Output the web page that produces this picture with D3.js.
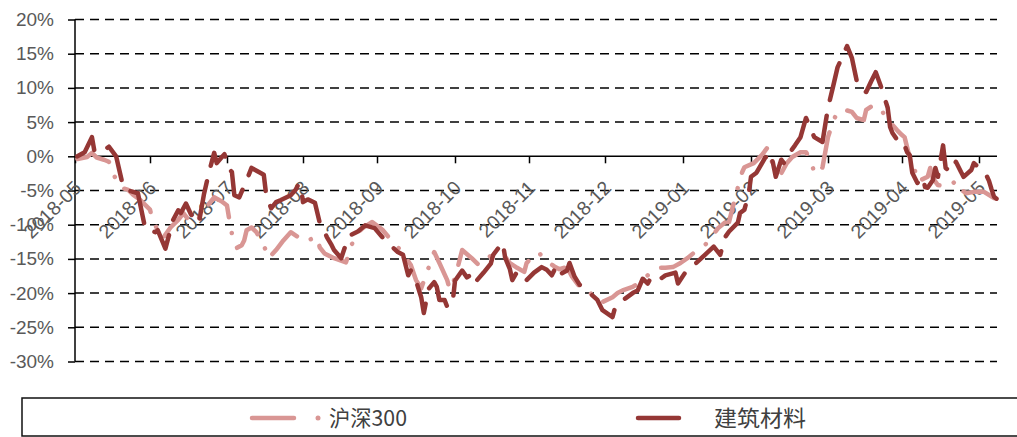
<!DOCTYPE html>
<html><head><meta charset="utf-8">
<script src="https://cdn.jsdelivr.net/npm/d3@7/dist/d3.min.js"></script>
<style>body{margin:0;background:#fff;} svg{display:block;}</style>
</head><body>
<svg id="c" width="1017" height="437"></svg>
<script>
// ---------- DATA ----------
const seriesNames = ["沪深300", "建筑材料"];
const monthTicks = ["2018-05-01","2018-06-01","2018-07-01","2018-08-01","2018-09-01","2018-10-01","2018-11-01","2018-12-01","2019-01-01","2019-02-01","2019-03-01","2019-04-01","2019-05-01"];
const tickLabels = ["2018-05","2018-06","2018-07","2018-08","2018-09","2018-10","2018-11","2018-12","2019-01","2019-02","2019-03","2019-04","2019-05"];
const yTicks = [20,15,10,5,0,-5,-10,-15,-20,-25,-30];
const endDate = "2019-05-08";

const hsDates = ["2018-05-02","2018-05-06","2018-05-08","2018-05-10","2018-05-13","2018-05-15","2018-05-18","2018-05-20","2018-05-23","2018-05-25","2018-05-28","2018-05-30",
"2018-06-01","2018-06-02","2018-06-04","2018-06-06","2018-06-09","2018-06-12","2018-06-14","2018-06-16","2018-06-18","2018-06-20","2018-06-23","2018-06-26","2018-06-29",
"2018-07-01","2018-07-02","2018-07-03","2018-07-05","2018-07-07","2018-07-08","2018-07-09","2018-07-11","2018-07-13","2018-07-16","2018-07-18","2018-07-21","2018-07-24","2018-07-27","2018-07-30",
"2018-08-02","2018-08-05","2018-08-07","2018-08-08","2018-08-10","2018-08-14","2018-08-19","2018-08-21","2018-08-23","2018-08-26","2018-08-30",
"2018-09-03","2018-09-07","2018-09-10","2018-09-14","2018-09-16","2018-09-18","2018-09-23","2018-09-25","2018-09-28","2018-09-29",
"2018-10-01","2018-10-04","2018-10-08","2018-10-11","2018-10-13","2018-10-15","2018-10-18","2018-10-22","2018-10-24","2018-10-27","2018-10-30","2018-10-31",
"2018-11-03","2018-11-05","2018-11-07","2018-11-11","2018-11-13","2018-11-15","2018-11-17","2018-11-18","2018-11-21","2018-11-24","2018-11-26","2018-11-27","2018-11-30",
"2018-12-04","2018-12-06","2018-12-08","2018-12-12","2018-12-16","2018-12-18","2018-12-20","2018-12-22","2018-12-25","2018-12-28","2018-12-31",
"2019-01-03","2019-01-06","2019-01-11","2019-01-14","2019-01-17","2019-01-20","2019-01-22","2019-01-25","2019-01-28","2019-01-29",
"2019-02-02","2019-02-05","2019-02-07","2019-02-09","2019-02-12","2019-02-14","2019-02-16","2019-02-19","2019-02-21","2019-02-23","2019-02-24","2019-02-26","2019-02-27",
"2019-03-01","2019-03-03","2019-03-05","2019-03-08","2019-03-11","2019-03-13","2019-03-16","2019-03-17","2019-03-20","2019-03-22","2019-03-25","2019-03-27","2019-03-30",
"2019-04-01","2019-04-02","2019-04-04","2019-04-06","2019-04-07","2019-04-11","2019-04-12","2019-04-13","2019-04-15","2019-04-19","2019-04-22","2019-04-24","2019-04-26","2019-04-29",
"2019-05-03","2019-05-07"];
const hsValues = [-0.4,-0.1,0.5,-0.2,-0.5,-0.8,-3.5,-4.6,-4.9,-5.6,-6.4,-7.1,
-7.8,-9.3,-10.8,-12,-10.4,-9.3,-8.3,-9.3,-9.7,-9,-7.4,-6,-6.6,
-7.2,-9.4,-11.3,-13.4,-13,-12.3,-10.8,-10.4,-11.1,-13,-14.9,-13.7,-12.3,-11.1,-11.8,
-12.5,-12,-11.8,-13.3,-14.2,-14.9,-15.5,-13.3,-11.5,-10.5,-9.6,
-10.7,-12.5,-13.7,-15.9,-18.1,-19.3,-14,-15.6,-18.1,-19.5,
-17.8,-13.7,-14.9,-15.9,-15.5,-14.7,-14.4,-14.7,-15.6,-16.3,-16.9,-15.6,
-14.4,-14.1,-15.1,-16.1,-16.5,-16.3,-16.9,-17.6,-19.1,-19.5,-20.3,-21,-21.3,
-20.6,-20,-19.6,-19.1,-18.1,-17.4,-16.9,-16.3,-16.3,-16.2,-15.6,
-14.9,-14.1,-13,-11.8,-10.5,-9.7,-9.6,-5.7,-2.3,-1.6,
-1,0.2,1.3,-1.3,-2.5,-1,-0.1,0.6,0.6,-0.8,-2.5,-2.3,-1.6,
2.8,5,6.5,6.8,6.5,5.6,5.3,6.8,7.5,7.2,6,5,3.8,
3.1,2.8,-0.2,-2,-3.7,-3,-1.7,-3.2,-4.2,-4.5,-3.6,-4.9,-5.4,-5.2,
-5.2,-6.1];

const jzDates = ["2018-05-02","2018-05-05","2018-05-08","2018-05-09","2018-05-10","2018-05-13","2018-05-15","2018-05-18","2018-05-21","2018-05-24","2018-05-27","2018-05-30","2018-05-31",
"2018-06-03","2018-06-04","2018-06-07","2018-06-10","2018-06-12","2018-06-13","2018-06-15","2018-06-17","2018-06-20","2018-06-22","2018-06-24","2018-06-26","2018-06-27","2018-06-29","2018-06-30",
"2018-07-02","2018-07-03","2018-07-04","2018-07-06","2018-07-09","2018-07-11","2018-07-14","2018-07-16","2018-07-17","2018-07-19","2018-07-21","2018-07-23","2018-07-27","2018-07-29","2018-07-30","2018-07-31",
"2018-08-01","2018-08-03","2018-08-06","2018-08-08","2018-08-09","2018-08-11","2018-08-13","2018-08-14","2018-08-17","2018-08-20","2018-08-21","2018-08-24","2018-08-27","2018-08-31",
"2018-09-03","2018-09-07","2018-09-09","2018-09-11","2018-09-13","2018-09-14","2018-09-16","2018-09-18","2018-09-19","2018-09-20","2018-09-21","2018-09-23","2018-09-24","2018-09-25","2018-09-27","2018-09-28","2018-09-30",
"2018-10-01","2018-10-04","2018-10-06","2018-10-09","2018-10-10","2018-10-13","2018-10-16","2018-10-17","2018-10-21","2018-10-22","2018-10-24","2018-10-25","2018-10-27","2018-10-30","2018-10-31",
"2018-11-03","2018-11-06","2018-11-08","2018-11-10","2018-11-12","2018-11-14","2018-11-16","2018-11-17","2018-11-19","2018-11-21","2018-11-23","2018-11-25","2018-11-28","2018-11-30",
"2018-12-04","2018-12-05","2018-12-07","2018-12-09","2018-12-12","2018-12-14","2018-12-16","2018-12-18","2018-12-19","2018-12-20","2018-12-22","2018-12-25","2018-12-29","2018-12-30",
"2019-01-02","2019-01-05","2019-01-07","2019-01-11","2019-01-15","2019-01-18","2019-01-20","2019-01-22","2019-01-26","2019-01-27","2019-01-29","2019-01-31",
"2019-02-01","2019-02-03","2019-02-06","2019-02-08","2019-02-09","2019-02-10","2019-02-12","2019-02-13","2019-02-15","2019-02-17","2019-02-19","2019-02-21","2019-02-24","2019-02-27",
"2019-03-01","2019-03-03","2019-03-05","2019-03-09","2019-03-11","2019-03-13","2019-03-15","2019-03-17","2019-03-19","2019-03-21","2019-03-23","2019-03-26","2019-03-27","2019-03-28","2019-03-30","2019-03-31",
"2019-04-02","2019-04-03","2019-04-04","2019-04-05","2019-04-07","2019-04-09","2019-04-10","2019-04-11","2019-04-13","2019-04-14","2019-04-15","2019-04-17","2019-04-18","2019-04-20","2019-04-22","2019-04-24","2019-04-25","2019-04-28","2019-04-29",
"2019-05-02","2019-05-04","2019-05-05","2019-05-06","2019-05-07","2019-05-08"];
const jzValues = [0,0.6,2.8,0.8,0.5,0.9,1.4,0,-4.6,-5.1,-5.4,-10.5,-10.4,
-11.1,-10.8,-13.5,-9.3,-7.9,-8.3,-6.9,-8.5,-9.8,-5.6,-2.3,0.5,-1,-0.1,0.3,
-1.9,-2.3,-5.7,-6.0,-3.5,-1.7,-2.3,-2.7,-5.7,-7.6,-6.7,-6.4,-5.7,-4.9,-4.2,-4.1,
-6.7,-6.3,-6.8,-9.7,-10.3,-11.8,-13,-13.7,-14.9,-11.8,-11.5,-11,-10.1,-10.5,
-11.8,-13.3,-14,-14.4,-17.4,-16.7,-18.2,-20.6,-22.9,-21,-19.3,-18.4,-19.1,-21,-21,-22,-21.7,
-18.2,-16.7,-17.7,-17,-18.2,-17,-15.7,-14.4,-12.6,-14.8,-16.5,-18.1,-16.9,-17.4,-18.1,
-17,-16.2,-16.6,-17.4,-15.9,-17.1,-16.7,-15.6,-17.6,-18.8,-19.3,-20,-21,-22.5,
-23.5,-22.1,-21.5,-20.8,-20,-19.6,-17.9,-18.6,-17.9,-17.7,-18.2,-17.4,-17,-18.6,
-17,-16.2,-15.6,-14.4,-13.2,-14.4,-11.9,-11,-9.7,-8.3,-7.8,-5.4,
-3,-2.4,-0.3,0.6,-1,-3,-0.5,-1,0.5,1.6,2.8,5.6,2.8,2.1,
7.1,10,13,16.1,14.4,11.1,9.7,9.4,10.9,12.3,10.4,7.1,4.3,3.4,2.4,1.6,
1.6,0.6,0.2,-2.4,-3.9,-3,-4.5,-4.6,-3.5,-1.7,-3,1.6,-1.7,-2.3,-0.8,-2.3,-3,-2,-1,
-2,-2.8,-3.6,-4.8,-5.9,-6.2];

// ---------- LAYOUT ----------
const colors = {hs: "#D99694", jz: "#953735"};
const xRange = [75,150,227,303,377,455,529,605,683,751,828,902,979,996.5];
const plotLeft = 75, plotRight = 997, yTop = 19.5, yBottom = 361.5;

const parse = d3.timeParse("%Y-%m-%d");
const x = d3.scaleTime().domain(monthTicks.concat([endDate]).map(parse)).range(xRange);
const y = d3.scaleLinear().domain([-30, 20]).range([yBottom, yTop]);

const svg = d3.select("#c");
const font = "'Liberation Sans', Arial, sans-serif";

// gridlines
svg.append("g").selectAll("line").data(yTicks.filter(v => v !== 0)).join("line")
  .attr("x1", plotLeft).attr("x2", plotRight)
  .attr("y1", d => y(d)).attr("y2", d => y(d))
  .attr("stroke", "#000").attr("stroke-width", 1.5).attr("stroke-dasharray", "9,6");

// y axis
const yAxis = d3.axisLeft(y).tickValues(yTicks).tickSize(7).tickPadding(14).tickFormat(d => d + "%");
const gy = svg.append("g").attr("transform", `translate(${plotLeft},0)`).call(yAxis);
gy.select(".domain").attr("stroke", "#000").attr("stroke-width", 1.5).attr("d", `M-0,${yTop}V${yBottom}`);
gy.selectAll(".tick line").attr("stroke", "#000").attr("stroke-width", 1.5);
gy.selectAll(".tick text").attr("font-family", font).attr("font-size", 19).attr("fill", "#595959");

// x axis at 0%
const xAxis = d3.axisBottom(x).tickValues(monthTicks.map(parse)).tickSize(7).tickFormat((d, i) => tickLabels[i]);
const gx = svg.append("g").attr("transform", `translate(0,${y(0)})`).call(xAxis);
gx.select(".domain").attr("stroke", "#000").attr("stroke-width", 1.5).attr("d", `M${plotLeft},0H${plotRight}`);
gx.selectAll(".tick line").attr("stroke", "#000").attr("stroke-width", 1.5);
gx.selectAll(".tick text").attr("font-family", font).attr("font-size", 19.5).attr("fill", "#595959")
  .attr("text-anchor", "end").attr("dy", "0.35em")
  .attr("transform", "translate(2,28) rotate(-45)").attr("y", 0).attr("x", 0);

// series
const hsData = hsDates.map((d, i) => ({date: parse(d), v: hsValues[i]}));
const jzData = jzDates.map((d, i) => ({date: parse(d), v: jzValues[i]}));
const line = d3.line().x(d => x(d.date)).y(d => y(d.v));

svg.append("path").datum(hsData).attr("d", line)
  .attr("fill", "none").attr("stroke", colors.hs).attr("stroke-width", 4.5)
  .attr("stroke-linecap", "round").attr("stroke-linejoin", "round")
  .attr("stroke-dasharray", "36,16,0.1,16");
svg.append("path").datum(jzData).attr("d", line)
  .attr("fill", "none").attr("stroke", colors.jz).attr("stroke-width", 4.5)
  .attr("stroke-linecap", "round").attr("stroke-linejoin", "round")
  .attr("stroke-dasharray", "38,16");

// legend
const lg = svg.append("g");
lg.append("rect").attr("x", 22).attr("y", 398).attr("width", 1012).attr("height", 38)
  .attr("fill", "none").attr("stroke", "#111").attr("stroke-width", 1.5);
const ly = 418;
lg.append("line").attr("x1", 252).attr("x2", 294).attr("y1", ly).attr("y2", ly)
  .attr("stroke", colors.hs).attr("stroke-width", 4.5).attr("stroke-linecap", "round");
lg.append("circle").attr("cx", 318).attr("cy", ly).attr("r", 2.5).attr("fill", colors.hs);
lg.append("text").attr("x", 329).attr("y", ly).attr("dy", "0.36em").text(seriesNames[0])
  .attr("font-family", "'Noto Sans CJK SC', sans-serif").attr("font-size", 22).attr("fill", "#404040")
  .attr("textLength", 78).attr("lengthAdjust", "spacingAndGlyphs");
lg.append("line").attr("x1", 638).attr("x2", 679).attr("y1", ly).attr("y2", ly)
  .attr("stroke", colors.jz).attr("stroke-width", 4.5).attr("stroke-linecap", "round");
lg.append("text").attr("x", 714).attr("y", ly).attr("dy", "0.36em").text(seriesNames[1])
  .attr("font-family", "'Noto Sans CJK SC', sans-serif").attr("font-size", 22).attr("fill", "#404040")
  .attr("textLength", 92).attr("lengthAdjust", "spacingAndGlyphs");
</script>
</body></html>
